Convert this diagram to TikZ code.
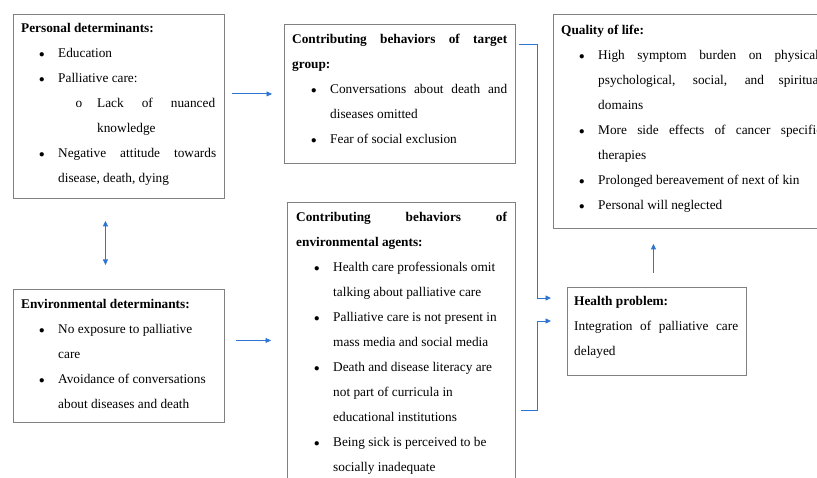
\documentclass[tikz,border=0pt]{standalone}
\usepackage{fontspec}
\setmainfont{Liberation Serif}
\usetikzlibrary{arrows.meta,calc}
\definecolor{boxgray}{RGB}{128,128,128}
\definecolor{arrblue}{RGB}{46,117,210}
\newcommand\Bu{\llap{{\fontsize{11}{11}\selectfont$\bullet$}\hskip13.5pt}}
\newcommand\Sb{\llap{o\hskip15pt}}
\newcommand\Ln[2]{\hbox{\hskip#1pt\relax#2}}
\newcommand\Jl[3]{\hbox{\hskip#1pt\relax\hbox to #2pt{#3}}}
\begin{document}
\begin{tikzpicture}[x=1pt,y=-1pt,
  box/.style={draw=boxgray,line width=0.9pt,inner sep=0pt,anchor=north west},
  txt/.style={inner sep=0pt,anchor=north west,font=\fontsize{13.3}{25}\selectfont},
  >={Triangle[length=5.5pt,width=5pt]},
  arr/.style={draw=arrblue,line width=0.9pt,->}]
\useasboundingbox (0,0) rectangle (817,478);
\clip (0,0) rectangle (817,478);
% boxes
\node[box,minimum width=211pt,minimum height=184pt] (b1) at (13,14) {};
\node[box,minimum width=231pt,minimum height=139pt] (b2) at (284,24) {};
\node[box,minimum width=280pt,minimum height=214pt] (b3) at (553,14) {};
\node[box,minimum width=211pt,minimum height=133pt] (b4) at (13,289) {};
\node[box,minimum width=228pt,minimum height=300pt] (b5) at (287,202) {};
\node[box,minimum width=179pt,minimum height=88pt] (b6) at (567,287) {};
% texts
\node[txt] (t1) at (21,14.5) {\vbox{%
  \hbox{\strut\textbf{Personal determinants:}}
  \Ln{37}{\Bu Education}
  \Ln{37}{\Bu Palliative care:}
  \Jl{76}{118}{\Sb Lack of nuanced}
  \Ln{76}{knowledge}
  \Jl{37}{158}{\Bu Negative attitude towards}
  \Ln{37}{disease, death, dying}}};
\node[txt] (t2) at (292,25.5) {\vbox{%
  \hbox{\strut\hbox to 215pt{\textbf{Contributing behaviors of target}}}
  \hbox{\textbf{group:}}
  \Jl{38}{177}{\Bu Conversations about death and}
  \Ln{38}{diseases omitted}
  \Ln{38}{\Bu Fear of social exclusion}}};
\node[txt] (t3) at (561,16.5) {\vbox{%
  \hbox{\strut\textbf{Quality of life:}}
  \Jl{37}{224}{\Bu High symptom burden on physical,}
  \Jl{37}{224}{psychological, social, and spiritual}
  \Ln{37}{domains}
  \Jl{37}{224}{\Bu More side effects of cancer specific}
  \Ln{37}{therapies}
  \Ln{37}{\Bu Prolonged bereavement of next of kin}
  \Ln{37}{\Bu Personal will neglected}}};
\node[txt] (t4) at (21,290.5) {\vbox{%
  \hbox{\strut\textbf{Environmental determinants:}}
  \Ln{37}{\Bu No exposure to palliative}
  \Ln{37}{care}
  \Ln{37}{\Bu Avoidance of conversations}
  \Ln{37}{about diseases and death}}};
\node[txt] (t5) at (296,203.5) {\vbox{%
  \hbox{\strut\hbox to 211pt{\textbf{Contributing behaviors of}}}
  \hbox{\textbf{environmental agents:}}
  \Ln{37}{\Bu Health care professionals omit}
  \Ln{37}{talking about palliative care}
  \Ln{37}{\Bu Palliative care is not present in}
  \Ln{37}{mass media and social media}
  \Ln{37}{\Bu Death and disease literacy are}
  \Ln{37}{not part of curricula in}
  \Ln{37}{educational institutions}
  \Ln{37}{\Bu Being sick is perceived to be}
  \Ln{37}{socially inadequate}}};
\node[txt] (t6) at (574,287.5) {\vbox{%
  \hbox{\strut\textbf{Health problem:}}
  \hbox{\hbox to 164pt{Integration of palliative care}}
  \hbox{delayed}}};
% connectors
\draw[arr] ($(b1.east |- b2.west)+(7,0)$) -- ($(b2.west)+(-12,0)$);
\draw[arr,<->] ($(b1.south)+(-13.5,22)$) -- ($(b4.north)+(-13.5,-24)$);
\draw[arr] ($(b4.east)+(11,-15.5)$) -- ($(b4.east -| b5.west)+(-16,-15.5)$);
\draw[arr] ($(b2.north east)+(3,20)$) -- ++(19,0) |- ($(b6.north west)+(-16,11)$);
\draw[arr] ($(b5.north east)+(5,208)$) -- ++(17,0) |- ($(b6.north west)+(-16,34)$);
\draw[arr] ($(b6.north)+(-3.5,-14)$) -- ($(b6.north |- b3.south)+(-3.5,15)$);
\end{tikzpicture}
\end{document}
